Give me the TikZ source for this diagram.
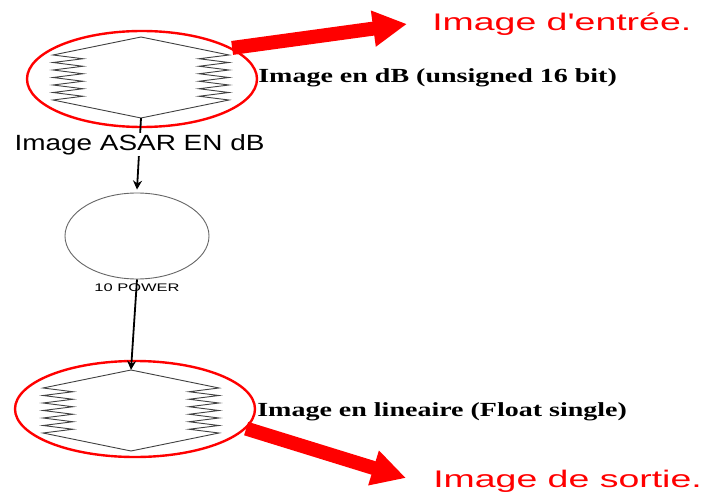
\documentclass[tikz,border=0pt]{standalone}
\usepackage{fontspec}
\setmainfont{Liberation Serif}
\setsansfont{Liberation Sans}
\usetikzlibrary{positioning}
\usetikzlibrary{shapes.geometric}
\usetikzlibrary{arrows.meta}

\tikzset{
  symline/.style={draw=black!75, line width=0.9pt, line join=miter},
  % raster symbol: hexagon with zigzag sides
  raster/.pic={
    \draw[symline] (0,-40.5) -- (-88,-22.5)
      \foreach \k in {1,...,6} { -- (-58,{-22.5+7.5*\k-3.75}) -- (-88,{-22.5+7.5*\k}) }
      -- (0,40.5) -- (88,22.5)
      \foreach \k in {1,...,6} { -- (58,{22.5-7.5*\k+3.75}) -- (88,{22.5-7.5*\k}) }
      -- cycle;
  }
}

\begin{document}
\begin{tikzpicture}[
    x=1pt, y=-1pt,
    ring/.style={ellipse, draw=red, line width=2.4pt, minimum width=230pt, minimum height=96pt},
    symbox/.style={rectangle, minimum width=176pt, minimum height=81pt, inner sep=0pt},
    powernode/.style={ellipse, draw=black!60, line width=0.9pt, minimum width=144pt, minimum height=86pt},
    flow/.style={draw=black, line width=1.8pt, -{Stealth[length=9pt,width=9pt]}},
    bigarrow/.style={draw=red, line width=14pt, -{Triangle[length=34pt,width=34pt]}},
    redlabel/.style={text=red, font=\sffamily\fontsize{24}{28}\selectfont, xscale=1.56, anchor=west, inner sep=0pt},
    typelabel/.style={font=\bfseries\fontsize{20}{24}\selectfont, xscale=1.4, anchor=west, inner sep=0pt},
    flowlabel/.style={fill=white, font=\sffamily\fontsize{22}{26}\selectfont, xscale=1.27, inner sep=1pt},
    powerlabel/.style={font=\sffamily\fontsize{11}{13}\selectfont, xscale=1.5, inner sep=0pt}
    ]
    \fill[white] (0,0) rectangle (708,497);
    \useasboundingbox (0,0) rectangle (708,497);

    %Nodes
    \node[symbox] (symin) at (141,77.5) {};
    \pic at (symin) {raster};
    \node[ring] (ringin) at (142,79) {};

    \node[powernode] (pw) at (137,236) {};
    \node[powerlabel, below=4pt of pw] (pwlabel) {10 POWER};

    \node[symbox] (symout) at (131,410.5) {};
    \pic at (symout) {raster};
    \node[ring, minimum width=240pt] (ringout) at (135,409) {};

    \coordinate (intip) at (407,24);
    \coordinate (outtip) at (406,478);

    %Lines
    \draw[flow] (symin.south) -- node[pos=0.37, flowlabel] (asar) {Image ASAR EN dB} ([yshift=3pt]pw.north);
    \draw[flow] (pw.south) -- (symout.north);

    \draw[bigarrow] (ringin.19) -- (intip);
    \draw[bigarrow] (ringout.-10) -- (outtip);

    %Labels
    \node[redlabel] (inlbl) at (432,24) {Image d\textquotesingle entrée.};
    \node[redlabel] (outlbl) at (433,481) {Image de sortie.};
    \node[typelabel] (intype) at (258,78) {Image en dB (unsigned 16 bit)};
    \node[typelabel] (outtype) at (257,412) {Image en lineaire (Float single)};
\end{tikzpicture}
\end{document}
